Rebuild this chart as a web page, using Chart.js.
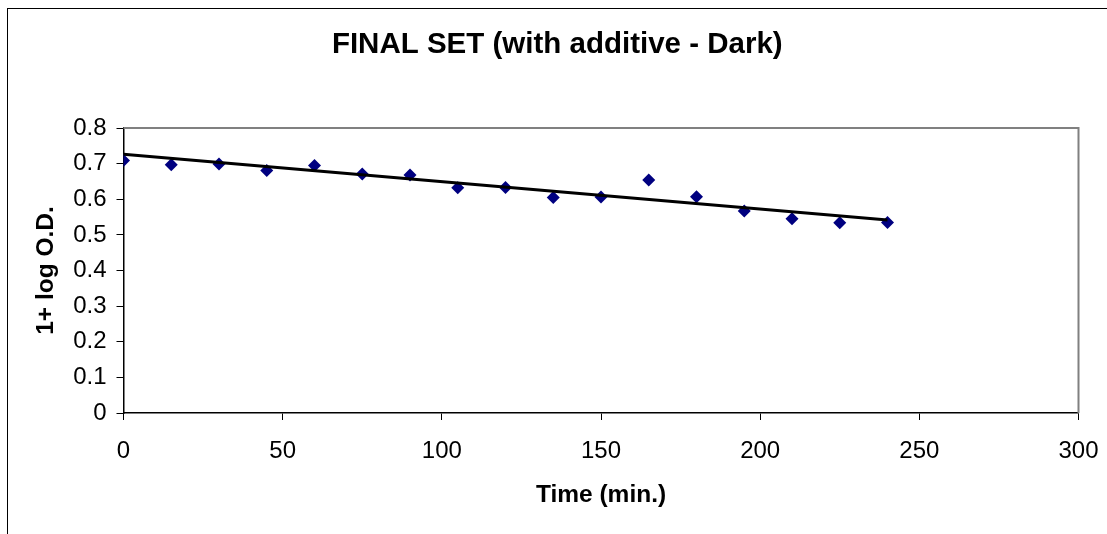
<!DOCTYPE html>
<html lang="en">
  <head>
    <meta charset="UTF-8" />
    <title>FINAL SET (with additive - Dark)</title>
    <script src="https://cdn.jsdelivr.net/npm/chart.js"></script>
    <style>
      html, body { margin: 0; padding: 0; background: #fff; overflow: hidden; }
    </style>
  </head>
  <body>
    <canvas id="myChart" width="1107" height="534"></canvas>
    <script>
      // readings
      const times = [0, 15, 30, 45, 60, 75, 90, 105, 120, 135, 150, 165, 180, 195, 210, 225, 240];
      const values = [0.709, 0.697, 0.699, 0.681, 0.695, 0.671, 0.668, 0.632, 0.633, 0.605, 0.606, 0.654, 0.607, 0.567, 0.545, 0.534, 0.535];
      const trendX = [0, 240];
      const trendY = [0.726, 0.542];
      const xTicks = [0, 50, 100, 150, 200, 250, 300];
      const yTicks = [0, 0.1, 0.2, 0.3, 0.4, 0.5, 0.6, 0.7, 0.8];

      const font = "'Liberation Sans', Arial, sans-serif";

      // outer box + grey top/right edges of the plot area
      const frame = {
        id: "frame",
        beforeDraw(chart) {
          const c = chart.ctx;
          c.save();
          c.strokeStyle = "#000";
          c.lineWidth = 1;
          c.strokeRect(7.5, 8.5, 1200, 600);
          c.restore();
        },
        beforeDatasetsDraw(chart) {
          const a = chart.chartArea;
          const c = chart.ctx;
          c.save();
          c.strokeStyle = "#808080";
          c.lineWidth = 2;
          c.beginPath();
          c.moveTo(a.left, a.top);
          c.lineTo(a.right, a.top);
          c.lineTo(a.right, a.bottom);
          c.stroke();
          c.restore();
        },
      };

      const ctx = document.getElementById("myChart");
      const myChart = new Chart(ctx, {
        type: "scatter",
        data: {
          datasets: [
            {
              label: "trend",
              type: "line",
              data: trendX.map((x, i) => ({ x: x, y: trendY[i] })),
              borderColor: "#000",
              borderWidth: 3,
              pointRadius: 0,
              fill: false,
            },
            {
              label: "data",
              data: times.map((t, i) => ({ x: t, y: values[i] })),
              pointStyle: "rectRot",
              pointRadius: 6.5,
              backgroundColor: "#000080",
              borderColor: "#000080",
              borderWidth: 0,
            },
          ],
        },
        options: {
          responsive: false,
          animation: false,
          devicePixelRatio: 1,
          layout: { padding: { left: 36, right: 28.5, top: 0, bottom: 0 } },
          plugins: {
            legend: { display: false },
            tooltip: { enabled: false },
            title: {
              display: true,
              text: "FINAL SET (with additive - Dark)",
              color: "#000",
              font: { family: font, size: 29.5, weight: "bold" },
              padding: { top: 27, bottom: 65.6 },
            },
          },
          scales: {
            x: {
              type: "linear",
              min: 0,
              max: 300,
              afterBuildTicks: (s) => { s.ticks = xTicks.map((v) => ({ value: v })); },
              afterFit: (s) => { s.height = 121; s.paddingLeft = 0; s.paddingRight = 0; },
              ticks: { color: "#000", padding: 17, font: { family: font, size: 24 } },
              grid: { drawOnChartArea: false, color: "#000", tickLength: 7, lineWidth: 1 },
              border: { color: "#000", width: 1.5 },
              title: {
                display: true,
                text: "Time (min.)",
                color: "#000",
                font: { family: font, size: 24.5, weight: "bold" },
                padding: { top: 0, bottom: 24 },
              },
            },
            y: {
              type: "linear",
              min: 0,
              max: 0.8,
              afterBuildTicks: (s) => { s.ticks = yTicks.map((v) => ({ value: v })); },
              afterFit: (s) => { s.width = 87.5; s.paddingTop = 0; s.paddingBottom = 0; },
              ticks: { color: "#000", padding: 10, font: { family: font, size: 24 } },
              grid: { drawOnChartArea: false, color: "#000", tickLength: 7, lineWidth: 1 },
              border: { color: "#000", width: 1.5 },
              title: {
                display: true,
                text: "1+ log O.D.",
                color: "#000",
                font: { family: font, size: 24.5, weight: "bold" },
                padding: { top: -4.7, bottom: 0 },
              },
            },
          },
        },
        plugins: [frame],
      });
    </script>
  </body>
</html>
